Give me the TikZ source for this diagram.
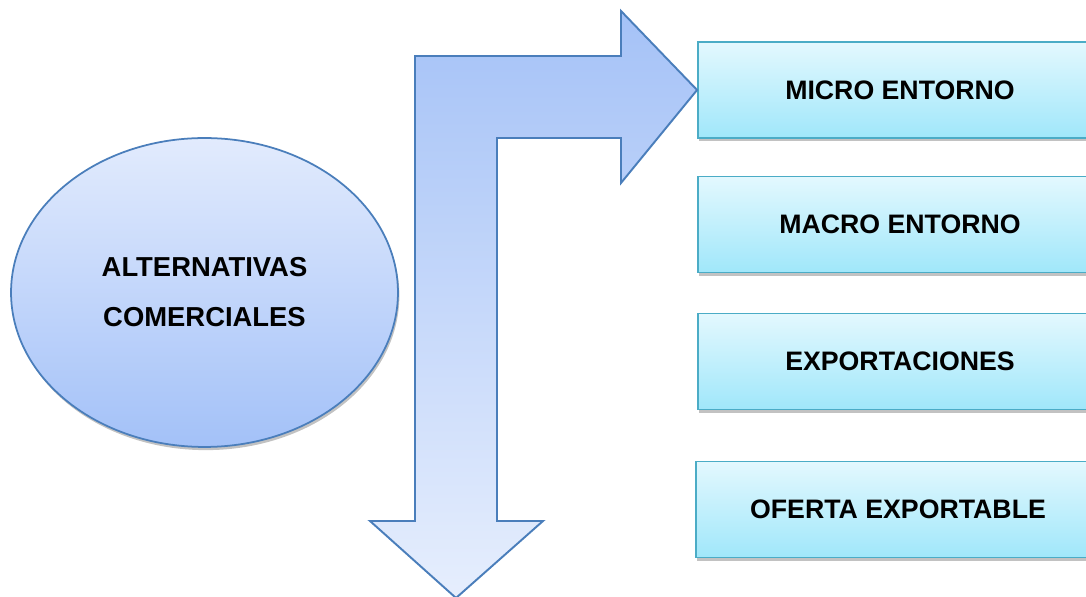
\documentclass[tikz,border=0pt]{standalone}
\usepackage{fontspec}
\setmainfont{Liberation Sans}
\usetikzlibrary{shadows,shapes.geometric}

\definecolor{ellTop}{HTML}{E2EBFD}
\definecolor{ellBot}{HTML}{A3C1F8}
\definecolor{arrTop}{HTML}{A5C2F7}
\definecolor{arrBot}{HTML}{E6EEFD}
\definecolor{boxTop}{HTML}{E3F8FE}
\definecolor{boxBot}{HTML}{A0E7FA}
\definecolor{blueLine}{HTML}{4A7EBB}
\definecolor{cyanLine}{HTML}{4BACC6}

\tikzset{
  soft shadow/.style={drop shadow={shadow xshift=0.8pt,shadow yshift=-1.8pt,opacity=0.4,fill=black!60}},
  topic/.style={rectangle, draw=cyanLine, line width=1.1pt, top color=boxTop, bottom color=boxBot,
    minimum width=8.08cm, minimum height=1.92cm, soft shadow,
    font=\fontsize{15.2}{18}\selectfont\bfseries},
  idea/.style={ellipse, draw=blueLine, line width=1pt, top color=ellTop, bottom color=ellBot,
    minimum width=7.74cm, minimum height=6.18cm, soft shadow, align=center,
    font=\fontsize{15.6}{28.5}\selectfont\bfseries}
}

\begin{document}
\begin{tikzpicture}[x=0.02cm,y=-0.02cm]
        % Frame
        \useasboundingbox (0,0) rectangle (1086,597);
        \clip (0,0) rectangle (1086,597);

        % Topics
        \node[topic] (micro) at (900,90) {MICRO ENTORNO};
        \node[topic] (macro) at (900,224.5) {MACRO ENTORNO};
        \node[topic] (expo) at (900,361.5) {EXPORTACIONES};
        \node[topic] (oferta) at (898,509.5) {OFERTA EXPORTABLE};

        % Main idea
        \node[idea] (alt) at (204.5,292.5) {ALTERNATIVAS\\COMERCIALES};

        % Bent arrow coords
        \coordinate (down) at (456,598);
        \coordinate (tip) at (micro.west);

        % Bent arrow
        \draw[blueLine, line width=1.1pt, line join=miter, top color=arrTop, bottom color=arrBot]
          (down) -- (370,521) -- (415,521) -- (415,56) -- (621,56) -- (621,11)
          -- (tip) -- (621,183) -- (621,138) -- (497,138) -- (497,521) -- (543,521) -- cycle;
    \end{tikzpicture}
\end{document}
